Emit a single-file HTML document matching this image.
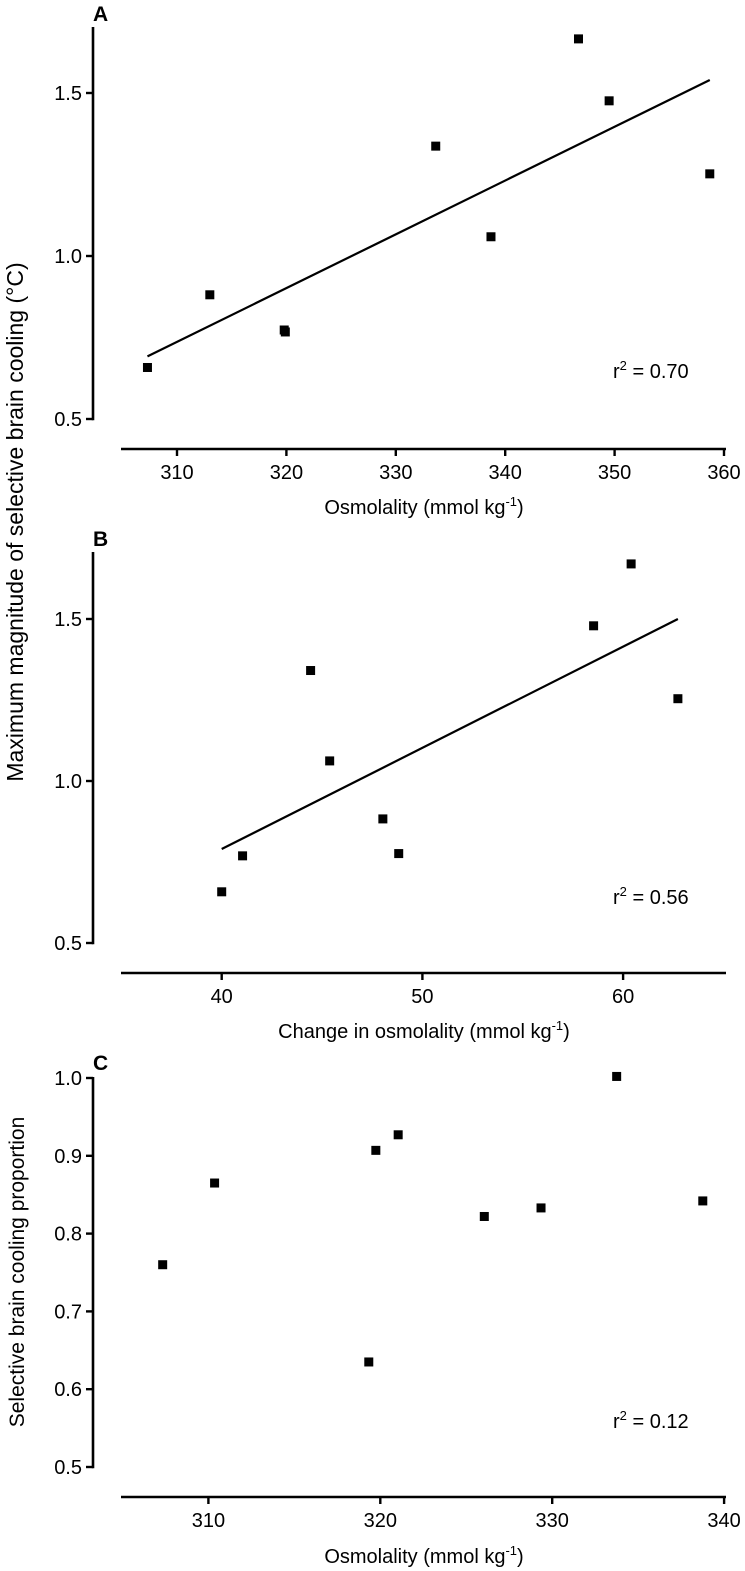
<!DOCTYPE html>
<html><head><meta charset="utf-8"><style>
html,body{margin:0;padding:0;background:#fff;}
svg{display:block;font-family:"Liberation Sans",Arial,sans-serif;}
</style></head><body>
<svg id="chart" width="745" height="1571" viewBox="0 0 745 1571"></svg>
<script>
// Panel A data
const aX = [307.3, 313.0, 319.8, 319.9, 333.65, 338.7, 346.7, 349.5, 358.7];
const aY = [0.658, 0.881, 0.773, 0.767, 1.337, 1.059, 1.666, 1.476, 1.252];
const aFitX = [307.3, 358.7];
const aFitY = [0.692, 1.540];
const aXTicks = [310, 320, 330, 340, 350, 360];
const aYTicks = [0.5, 1.0, 1.5];
// Panel B data
const bX = [40.0, 41.04, 44.43, 45.38, 48.03, 48.82, 58.53, 60.40, 62.73];
const bY = [0.658, 0.769, 1.341, 1.062, 0.883, 0.776, 1.479, 1.670, 1.254];
const bFitX = [40.0, 62.73];
const bFitY = [0.790, 1.500];
const bXTicks = [40, 50, 60];
const bYTicks = [0.5, 1.0, 1.5];
// Panel C data
const cX = [307.34, 310.36, 319.33, 319.74, 321.04, 326.05, 329.35, 333.75, 338.76];
const cY = [0.760, 0.865, 0.635, 0.907, 0.927, 0.822, 0.833, 1.002, 0.842];
const cXTicks = [310, 320, 330, 340];
const cYTicks = [0.5, 0.6, 0.7, 0.8, 0.9, 1.0];
const cYLabels = ["0.5","0.6","0.7","0.8","0.9","1.0"];

const NS = "http://www.w3.org/2000/svg";
const svg = document.getElementById("chart");
function mk(tag, attrs, parent){
  const e = document.createElementNS(NS, tag);
  for (const k in attrs) e.setAttribute(k, attrs[k]);
  (parent||svg).appendChild(e);
  return e;
}
function panel(cfg){
  const g = mk("g", {});
  
  
  const sx = v => cfg.x0 + (v - cfg.xv0) * cfg.xs;
  const sy = v => cfg.y0 - (v - cfg.yv0) * cfg.ys;
  // y axis
  const ya = mk("line", {x1:cfg.axX, x2:cfg.axX, y1:cfg.axTop, y2:sy(cfg.yTicks[0])+1.2, stroke:"#000","stroke-width":2.6}, g);
  
  
  cfg.yTicks.forEach((t,i)=>{
    const y = sy(t);
    const tk = mk("line", {x1:cfg.axX-7, x2:cfg.axX, y1:y, y2:y, stroke:"#000","stroke-width":2.4}, g);
    
    
    const tx = mk("text", {x:cfg.axX-11, y:y+7, "text-anchor":"end","font-size":20}, g);
    tx.textContent = cfg.yLabels ? cfg.yLabels[i] : t.toFixed(1);
    
    
  });
  // x axis
  const xa = mk("line", {x1:121, x2:726, y1:cfg.axY, y2:cfg.axY, stroke:"#000","stroke-width":2.6}, g);
  
  
  cfg.xTicks.forEach(t=>{
    const x = sx(t);
    const tk = mk("line", {x1:x, x2:x, y1:cfg.axY, y2:cfg.axY+7, stroke:"#000","stroke-width":2.4}, g);
    
    
    const tx = mk("text", {x:x, y:cfg.axY+30, "text-anchor":"middle","font-size":20}, g);
    tx.textContent = String(t);
    
    
  });
  // fit line
  if (cfg.fx){
    const fl = mk("line", {x1:sx(cfg.fx[0]), y1:sy(cfg.fy[0]), x2:sx(cfg.fx[1]), y2:sy(cfg.fy[1]), stroke:"#000","stroke-width":2.2}, g);
    
    
  }
  // points
  cfg.xs_.forEach((v,i)=>{
    const r = mk("rect", {x:sx(v)-4.5, y:sy(cfg.ys_[i])-4.5, width:9, height:9, fill:"#000"}, g);
    
    
  });
  // letter
  const L = mk("text", {x:93, y:cfg.letterY, "font-size":21, "font-weight":"bold"}, g);
  L.textContent = cfg.letter;
  
  
  // r2
  const r2 = mk("text", {x:613, y:cfg.r2Y, "font-size":20}, g);
  r2.innerHTML = 'r<tspan dy="-8" font-size="13">2</tspan><tspan dy="8"> = ' + cfg.r2 + '</tspan>';
  
  
  // x title
  const xt = mk("text", {x:cfg.xtX, y:cfg.xtY, "text-anchor":"middle","font-size":20}, g);
  xt.innerHTML = cfg.xt + ' (mmol kg<tspan dy="-8" font-size="13">-1</tspan><tspan dy="8">)</tspan>';
  
  
}
panel({name:"panel-a", x0:177, xv0:310, xs:10.94, y0:419, yv0:0.5, ys:326,
  axX:93, axTop:27, axY:449, xTicks:aXTicks, yTicks:aYTicks, xs_:aX, ys_:aY, fx:aFitX, fy:aFitY,
  letter:"A", letterY:21, r2:"0.70", r2Y:378, xt:"Osmolality", xtX:424, xtY:514});
panel({name:"panel-b", x0:221.7, xv0:40, xs:20.07, y0:943, yv0:0.5, ys:324,
  axX:93, axTop:552, axY:973, xTicks:bXTicks, yTicks:bYTicks, xs_:bX, ys_:bY, fx:bFitX, fy:bFitY,
  letter:"B", letterY:546, r2:"0.56", r2Y:904, xt:"Change in osmolality", xtX:424, xtY:1038});
panel({name:"panel-c", x0:208.4, xv0:310, xs:17.19, y0:1467, yv0:0.5, ys:778,
  axX:93, axTop:1077, axY:1497, xTicks:cXTicks, yTicks:cYTicks, yLabels:cYLabels, xs_:cX, ys_:cY,
  letter:"C", letterY:1070, r2:"0.12", r2Y:1428, xt:"Osmolality", xtX:424, xtY:1563});
// y titles
const yt1 = mk("text", {x:0, y:0, "text-anchor":"middle","font-size":23, transform:"translate(23,522) rotate(-90)"});
yt1.textContent = "Maximum magnitude of selective brain cooling (°C)";


const yt2 = mk("text", {x:0, y:0, "text-anchor":"middle","font-size":21, transform:"translate(24,1272) rotate(-90)"});
yt2.textContent = "Selective brain cooling proportion";


</script>
</body></html>
